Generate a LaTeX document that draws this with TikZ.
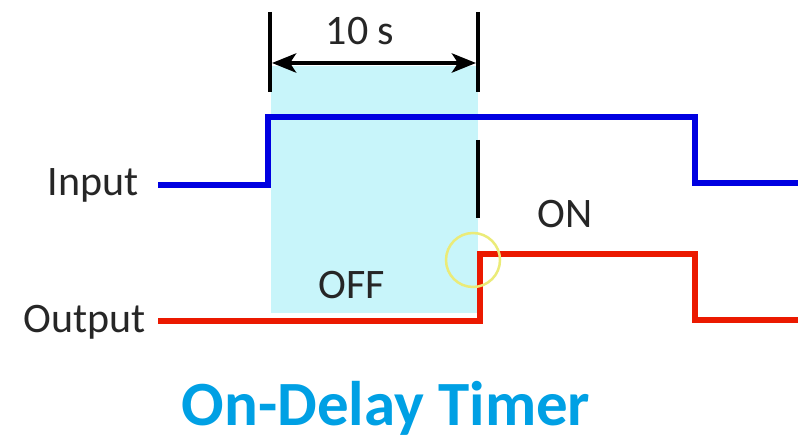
\documentclass[tikz,border=0pt]{standalone}
\usepackage{fontspec}
\setmainfont{Carlito}
\usetikzlibrary{arrows.meta}
\definecolor{sigblue}{RGB}{0,0,225}
\definecolor{sigred}{RGB}{235,25,0}
\definecolor{zone}{RGB}{200,245,250}
\definecolor{titleblue}{RGB}{0,160,228}
\definecolor{hilite}{RGB}{235,235,120}
\tikzset{
  lbl/.style={inner sep=0pt, font=\fontsize{42}{48}\selectfont, text=black!85},
  sig/.style={line width=6.5pt, line join=miter},
  tick/.style={line width=4.5pt, black},
}
\begin{document}
\begin{tikzpicture}[x=1pt,y=-1pt]
\useasboundingbox (0,0) rectangle (798,443);
% shaded delay zone
\fill[zone] (271,66) rectangle (478,313);
% dimension ticks and arrow
\coordinate (tl0) at (270,12); \coordinate (tl1) at (270,92);
\coordinate (tr0) at (478,12); \coordinate (tr1) at (478,92);
\draw[tick] (tl0) -- (tl1);
\draw[tick] (tr0) -- (tr1);
\coordinate (al) at (272,63); \coordinate (ar) at (476,63);
\draw[line width=4.5pt, {Stealth[length=24pt,width=19pt,inset=6pt]}-{Stealth[length=24pt,width=19pt,inset=6pt]}] (al) -- (ar);
\node[lbl] (ten) at (360,31) {10 s};
% marker at delay end
\coordinate (m0) at (478,140); \coordinate (m1) at (478,218);
\draw[tick] (m0) -- (m1);
% input signal
\coordinate (i0) at (158,185); \coordinate (i1) at (268,185);
\coordinate (i2) at (268,117); \coordinate (i3) at (695,117);
\coordinate (i4) at (695,183); \coordinate (i5) at (798,183);
\draw[sig, sigblue] (i0) -- (i1) -- (i2) -- (i3) -- (i4) -- (i5);
% output signal
\coordinate (o0) at (158,321); \coordinate (o1) at (480,321);
\coordinate (o2) at (480,254); \coordinate (o3) at (695,254);
\coordinate (o4) at (695,320); \coordinate (o5) at (798,320);
\draw[sig, sigred] (o0) -- (o1) -- (o2) -- (o3) -- (o4) -- (o5);
% cursor highlight
\node[draw=hilite, line width=2.5pt, circle, minimum size=54pt, inner sep=0pt] (hl) at (473,260) {};
% labels
\node[lbl, anchor=east] (inp) at (139,185) {Input};
\node[lbl, anchor=east] (outp) at (146,322) {Output};
\node[lbl] (on) at (565,214) {ON};
\node[lbl] (off) at (352,285) {OFF};
\node[inner sep=0pt, font=\fontsize{63}{72}\selectfont\bfseries, text=titleblue] (title) at (386,408) {On-Delay Timer};
\end{tikzpicture}
\end{document}
